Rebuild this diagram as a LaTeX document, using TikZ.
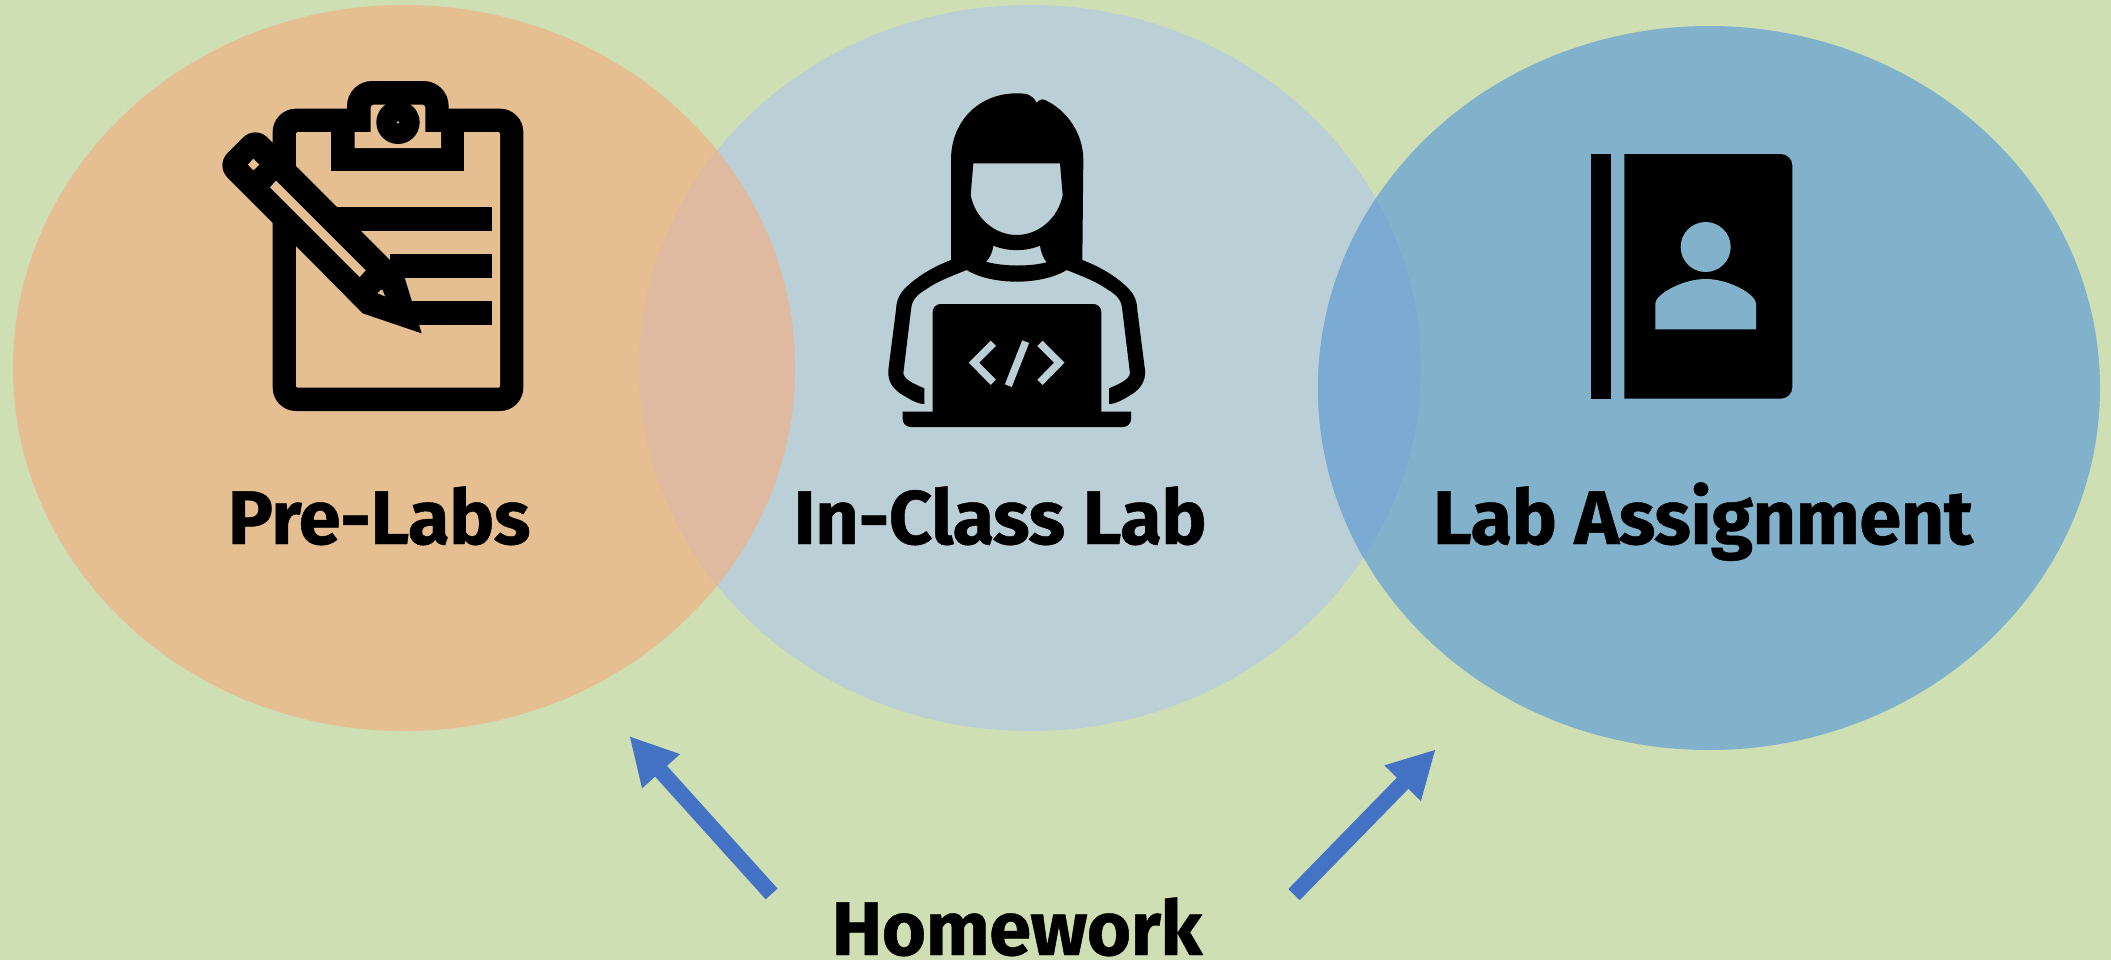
\documentclass[tikz,border=0pt]{standalone}
\usepackage{fontspec}
\setmainfont{Fira Sans}
\newfontfamily\hvy[LetterSpace=-0.8,FakeBold=0.6]{Fira Sans Bold}
\usetikzlibrary{arrows.meta}
\definecolor{bgc}{HTML}{CFDFB4}
\definecolor{oran}{HTML}{E5BE92}
\definecolor{lblue}{HTML}{BBCFD6}
\definecolor{mblue}{HTML}{82B2CB}
\definecolor{lensa}{HTML}{DFB9A0}
\definecolor{lensb}{HTML}{7BABD3}
\definecolor{arrowc}{HTML}{4472C4}
\tikzset{
  lbl/.style={font=\hvy\fontsize{38}{44}\selectfont,anchor=base,text=black,inner sep=0pt},
  hw/.style={-{Triangle[length=23.7pt,width=23.7pt]},line width=8pt,draw=arrowc},
  zoomed/.style={shift={#1},scale=1/3}
}
\begin{document}
\begin{tikzpicture}[x=0.5pt,y=-0.5pt]
\useasboundingbox (0,0) rectangle (2111,960);
\fill[bgc] (0,0) rectangle (2111,960);
% circles
\fill[lblue] (1030,368) ellipse (391 and 363);
\fill[oran] (404,368) ellipse (391 and 363);
\fill[mblue] (1709,388) ellipse (391 and 362);
\begin{scope}
  \clip (404,368) ellipse (391 and 363);
  \fill[lensa] (1030,368) ellipse (391 and 363);
\end{scope}
\begin{scope}
  \clip (1709,388) ellipse (391 and 362);
  \fill[lensb] (1030,368) ellipse (391 and 363);
\end{scope}
% clipboard
\begin{scope}[zoomed={(200,60)}]
  \fill[black,rounded corners=11.67pt] (218,146) rectangle (970,1053);
  \fill[oran,rounded corners=0.7pt] (288,216) rectangle (900,983);
  \fill[black,rounded corners=12.5pt] (441,320) -- (441,63) -- (746,63) -- (746,320) -- cycle;
  \fill[black] (394,146) rectangle (793,334);
  \fill[oran] (464,264) -- (723,264) -- (723,216) -- (676,216) [rounded corners=1.5pt] -- (676,134) -- (512,134) [sharp corners] -- (512,216) -- (464,216) -- cycle;
  \fill[black] (594,187) circle (65);
  \fill[oran] (594,187) circle (4);
  \fill[black] (400,441) rectangle (876,512);
  \fill[black] (570,582) rectangle (876,653);
  \fill[black] (630,724) rectangle (876,795);
  \fill[black,rounded corners=8.5pt] (300,570) -- (46,316) -- (166,196) -- (300,330) [sharp corners] -- (610,640) -- (665,820) -- (488,760) -- cycle;
  \fill[oran] (160,296) -- (178,314) -- (160,331) -- (144,314) -- cycle;
  \fill[oran] (228,362) -- (497,631) -- (479,651) -- (210,382) -- cycle;
  \fill[oran] (543,689) -- (548,691) -- (555,709) -- (533,700) -- cycle;
\end{scope}
% person
\begin{scope}[zoomed={(870,80)}]
  \fill[black,even odd rule]
    (243,540) -- (243,240) .. controls (243,120) and (330,40) .. (440,40)
    .. controls (470,40) and (485,42) .. (500,68) .. controls (505,62) and (515,55) .. (525,60)
    .. controls (590,90) and (640,160) .. (640,240) -- (637,540)
    .. controls (690,560) and (740,590) .. (775,625) .. controls (795,645) and (802,670) .. (802,690)
    -- (825,870) .. controls (828,905) and (810,925) .. (790,940) .. controls (765,955) and (740,972) .. (717,972)
    -- (717,925) .. controls (740,915) and (778,900) .. (780,880)
    -- (757,690) .. controls (755,660) and (740,645) .. (715,630) .. controls (680,605) and (640,590) .. (590,570)
    .. controls (550,595) and (490,605) .. (440,605) .. controls (390,605) and (330,595) .. (290,570)
    .. controls (240,590) and (200,605) .. (165,630) .. controls (140,645) and (125,660) .. (123,690)
    -- (100,880) .. controls (102,900) and (140,915) .. (163,925) -- (163,972)
    .. controls (140,972) and (115,955) .. (90,940) .. controls (70,925) and (52,905) .. (55,870)
    -- (78,690) .. controls (78,670) and (85,645) .. (105,625) .. controls (140,590) and (190,560) .. (243,540) -- cycle
    (310,250) -- (570,250) -- (578,345) .. controls (565,415) and (505,465) .. (440,465)
    .. controls (375,465) and (315,415) .. (302,345) -- cycle
    (370,497) .. controls (415,515) and (465,515) .. (510,497) .. controls (512,515) and (520,535) .. (530,547)
    .. controls (480,560) and (400,560) .. (348,545) .. controls (360,535) and (368,515) .. (370,497) -- cycle;
  \fill[black,rounded corners=4pt] (188,996) -- (188,672) -- (694,672) [sharp corners] -- (694,996) -- cycle;
  \fill[black,rounded corners=4pt] (440,1041) -- (98,1041) [sharp corners] -- (98,995) -- (783,995) [rounded corners=4pt] -- (783,1041) -- cycle;
  \draw[lblue,line width=3.7pt,miter limit=10] (370,790) -- (312,848) -- (370,907);
  \draw[lblue,line width=3.7pt,miter limit=10] (510,790) -- (568,848) -- (510,907);
  \draw[lblue,line width=3.7pt] (467,785) -- (415,917);
\end{scope}
% book
\begin{scope}[zoomed={(1570,140)}]
  \fill[black] (64,42) rectangle (124,776);
  \fill[black,rounded corners=5.8pt] (300,776) [sharp corners] -- (163,776) -- (163,42) -- (400,42) [rounded corners=5.8pt] -- (667,42) -- (667,776) -- cycle;
  \fill[mblue] (407,321) circle (75);
  \fill[mblue] (256,568) -- (558,568) -- (558,490) .. controls (558,465) and (480,417) .. (407,417)
    .. controls (334,417) and (256,465) .. (256,490) -- cycle;
\end{scope}
% labels
\node[lbl] (prelabs) at (379,544) {Pre-Labs};
\node[lbl] (inclass) at (1000,544) {In-Class Lab};
\node[lbl] (assign) at (1703,544) {Lab Assignment};
\node[lbl] (homework) at (1017,955) {Homework};
% arrows
\coordinate (lt) at (771.6,893.9);
\coordinate (lh) at (629.3,736);
\coordinate (rt) at (1294,894.6);
\coordinate (rh) at (1435.7,749.3);
\draw[hw] (lt) -- (lh);
\draw[hw] (rt) -- (rh);
\end{tikzpicture}
\end{document}
